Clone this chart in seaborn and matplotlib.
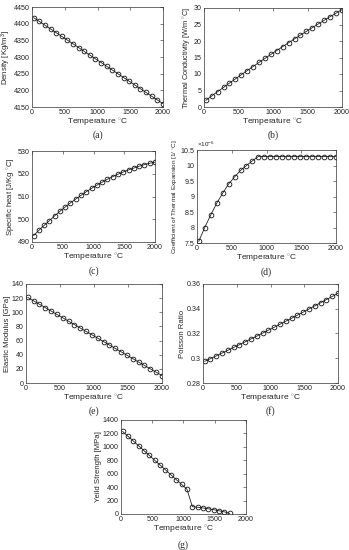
import pandas as pd
import matplotlib
matplotlib.use('Agg')
import matplotlib.pyplot as plt
import seaborn as sns
from matplotlib.ticker import FuncFormatter

# Temperature points (deg C)
temperature = [25, 111, 197, 283, 368, 454, 540, 626, 712, 797, 883, 969,
               1055, 1141, 1226, 1312, 1398, 1484, 1570, 1655, 1741, 1827, 1913, 2000]

density = [4418.0, 4406.8, 4395.6, 4384.3, 4373.1, 4361.9, 4350.7, 4339.5,
           4328.2, 4317.0, 4305.8, 4294.6, 4283.4, 4272.1, 4260.9, 4249.7,
           4238.5, 4227.3, 4216.0, 4204.8, 4193.6, 4182.4, 4171.2, 4160.0]
conductivity = [2.00, 3.33, 4.64, 5.94, 7.23, 8.51, 9.77, 11.03, 12.27, 13.50,
                14.72, 15.93, 17.12, 18.31, 19.48, 20.64, 21.79, 22.92, 24.05,
                25.16, 26.26, 27.35, 28.43, 29.49]
specific_heat = [492.8, 495.1, 497.3, 499.4, 501.5, 503.5, 505.4, 507.2, 508.9,
                 510.5, 512.1, 513.6, 515.0, 516.3, 517.6, 518.7, 519.8, 520.8,
                 521.7, 522.5, 523.3, 524.0, 524.6, 525.1]
expansion = [7.55, 8.0, 8.4, 8.78, 9.1, 9.4, 9.63, 9.84, 10.0, 10.15, 10.29,
             10.29, 10.29, 10.29, 10.29, 10.29, 10.29, 10.29, 10.29, 10.29,
             10.29, 10.29, 10.29, 10.29]  # x 1e-6
elastic_modulus = [121.0, 116.2, 111.4, 106.6, 101.8, 97.0, 92.2, 87.4, 82.6,
                   77.8, 73.0, 68.2, 63.4, 58.5, 53.7, 48.9, 44.1, 39.3, 34.5,
                   29.7, 24.9, 20.1, 15.3, 10.5]
poisson = [0.2975, 0.2997, 0.3019, 0.3042, 0.3064, 0.3087, 0.3110, 0.3133,
           0.3156, 0.3179, 0.3203, 0.3227, 0.3250, 0.3275, 0.3299, 0.3323,
           0.3348, 0.3373, 0.3398, 0.3423, 0.3448, 0.3474, 0.3499, 0.3525]
yield_strength = [1230, 1158, 1087, 1015, 943, 872, 800, 728, 657, 585, 513,
                  442, 370, 110, 100, 90, 78, 64, 48, 32, 8]

sns.set_theme(style='white')
plt.rcParams['font.family'] = ['Liberation Sans', 'DejaVu Sans']
plt.rcParams['mathtext.fontset'] = 'custom'
plt.rcParams['mathtext.rm'] = 'Liberation Sans'
plt.rcParams['mathtext.it'] = 'Liberation Sans:italic'

W, H = 349, 550
fig = plt.figure(figsize=(W / 100, H / 100), dpi=100)
fig.patch.set_facecolor('white')

deg = r'$^{\circ}$'


def panel(box, x, y, ylabel, ylim, yticks, tag, tag_y, ylsize=5.6):
    left, right, top, bottom = box
    ax = fig.add_axes([left / W, 1 - bottom / H, (right - left) / W, (bottom - top) / H])
    df = pd.DataFrame({'T': x, 'v': y})
    sns.lineplot(data=df, x='T', y='v', ax=ax, color='#222222', linewidth=0.6,
                 marker='o', markersize=3.4, markerfacecolor='none',
                 markeredgecolor='#111111', markeredgewidth=0.6)
    ax.set_xlim(0, 2000)
    ax.set_xticks([0, 500, 1000, 1500, 2000])
    ax.set_ylim(*ylim)
    ax.set_yticks(yticks)
    ax.yaxis.set_major_formatter(FuncFormatter(lambda v, p: '%g' % round(v, 6)))
    ax.tick_params(direction='in', length=2, width=0.4, labelsize=5.1, pad=1.5,
                   top=True, right=True, colors='#222222')
    for s in ax.spines.values():
        s.set_linewidth(0.5)
        s.set_color('#333333')
    ax.set_xlabel('Temperature ' + deg + 'C', fontsize=6.0, labelpad=0.5)
    ax.set_ylabel(ylabel, fontsize=ylsize, labelpad=1)
    fig.text((left + right) / 2 / W, 1 - tag_y / H, tag, ha='center', va='center',
             fontsize=7, family='Liberation Serif')
    return ax


panel((32, 163, 7, 107), temperature, density, 'Density [Kg/m$^3$]',
      (4150, 4450), range(4150, 4451, 50), '(a)', 135)
panel((204, 342, 8, 107), temperature, conductivity,
      'Thermal Conductivity [W/m ' + deg + 'C]', (0, 30), range(0, 31, 5), '(b)', 135,
      ylsize=5.3)
panel((32, 155, 151, 242), temperature, specific_heat,
      'Specific heat [J/Kg ' + deg + 'C]', (490, 530), range(490, 531, 10), '(c)', 271)
ax_d = panel((197, 336, 150, 243), temperature, expansion,
             'Coefficient of Thermal Expansion [1/ ' + deg + 'C]', (7.5, 10.5),
             [7.5, 8, 8.5, 9, 9.5, 10, 10.5], '(d)', 272, ylsize=4.6)
ax_d.text(0, 1.01, r'$\times10^{-6}$', transform=ax_d.transAxes, fontsize=4.5,
          ha='left', va='bottom', color='#222222')
panel((26, 162, 284, 383), temperature, elastic_modulus, 'Elastic Modulus [GPa]',
      (0, 140), range(0, 141, 20), '(e)', 411)
panel((203, 338, 284, 383), temperature, poisson, 'Poisson Ratio',
      (0.28, 0.36), [0.28, 0.30, 0.32, 0.34, 0.36], '(f)', 411)
panel((121, 246, 420, 514), temperature[:len(yield_strength)], yield_strength,
      'Yeild Strength [MPa]', (0, 1400), range(0, 1401, 200), '(g)', 545)

fig.savefig('out.png', dpi=100, facecolor='white')
